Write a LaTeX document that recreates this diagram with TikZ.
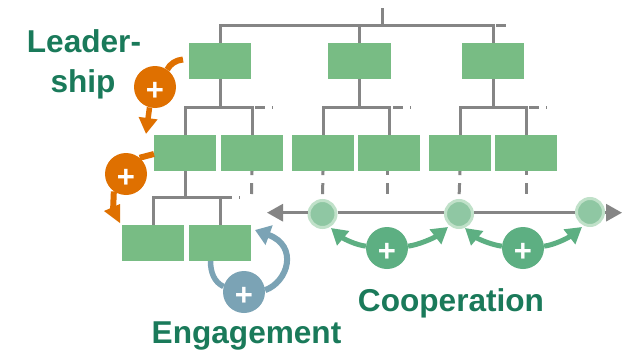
\documentclass[tikz,border=0pt]{standalone}
\usepackage{fontspec}
\setmainfont{Liberation Sans}
\usetikzlibrary{arrows.meta,calc}
\definecolor{boxgreen}{HTML}{78BC84}
\definecolor{linegrey}{HTML}{858585}
\definecolor{labelgreen}{HTML}{1A7A5A}
\definecolor{orangeplus}{HTML}{DF7000}
\definecolor{blueplus}{HTML}{7BA3B5}
\definecolor{greenplus}{HTML}{5DAF82}
\definecolor{dotfill}{HTML}{8FC7A3}
\definecolor{dotring}{HTML}{C0E1C9}
\tikzset{
  orgbox/.style={fill=boxgreen,draw=none,minimum width=62pt,minimum height=36pt,inner sep=0pt},
  tree/.style={draw=linegrey,line width=3pt},
  tail/.style={draw=linegrey,line width=3pt,dash pattern=on 10pt off 7pt on 1pt off 100pt},
  vdash/.style={draw=linegrey,line width=3pt,dash pattern=on 4pt off 8pt on 11pt off 100pt},
  axisline/.style={draw=linegrey,line width=3pt},
  axisarrow/.style={axisline,-{Triangle[length=16pt,width=17pt]}},
  dot/.style={circle,fill=dotfill,draw=dotring,line width=3pt,minimum size=27pt,inner sep=0pt},
  plusnode/.style={circle,minimum size=42pt,inner sep=0pt,text=white,font=\fontsize{31}{31}\selectfont\bfseries},
  lab/.style={text=labelgreen,anchor=base,inner sep=0pt,font=\fontsize{31.6}{32}\selectfont\bfseries},
  oarrow/.style={draw=orangeplus,line width=5.5pt,-{Triangle[length=16pt,width=18pt]}},
  oline/.style={draw=orangeplus,line width=6pt},
  barrow/.style={draw=blueplus,line width=6pt,-{Triangle[length=15pt,width=20pt]}},
  bline/.style={draw=blueplus,line width=5.5pt},
  garrow/.style={draw=greenplus,line width=5pt,-{Triangle[length=16pt,width=18pt]}},
}
\newcommand{\plusmark}{\raisebox{0pt}[26pt][0pt]{+}}
\begin{document}
\begin{tikzpicture}[x=1pt,y=-1pt]
\useasboundingbox[fill=white] (0,0) rectangle (625,351);
% boxes
\node[orgbox] (b11) at (220,61) {};
\node[orgbox,minimum width=63pt] (b12) at (359.5,61) {};
\node[orgbox] (b13) at (493,61) {};
\node[orgbox] (b21) at (185,153) {};
\node[orgbox] (b22) at (252,153) {};
\node[orgbox] (b23) at (323,153) {};
\node[orgbox] (b24) at (389,153) {};
\node[orgbox] (b25) at (460,153) {};
\node[orgbox] (b26) at (526,153) {};
\node[orgbox] (b31) at (153,243) {};
\node[orgbox] (b32) at (220,243) {};
% tree
\coordinate (root) at (382,8);
\coordinate (top) at (382,25.5);
\coordinate (busa) at (219,107);
\coordinate (busb) at (360,107);
\coordinate (busc) at (492,107);
\coordinate (busd) at (186,197.5);
\draw[tree] (root) -- (top);
\draw[tree] (b11.north) |- (top) -| (b13.north);
\draw[tree] (b12.north) -- (b12.north |- top);
\draw[tree] (b11.south) -- (b11.south |- busa);
\draw[tree] (b21.north) |- (busa) -| (b22.north);
\draw[tree] (b12.south) -- (b12.south |- busb);
\draw[tree] (b23.north) |- (busb) -| (b24.north);
\draw[tree] (b13.south) -- (b13.south |- busc);
\draw[tree] (b25.north) |- (busc) -| (b26.north);
\draw[tree] (b21.south) -- (b21.south |- busd);
\draw[tree] (b31.north) |- (busd) -| (b32.north);
% tails
\coordinate (t0a) at (496,25.5); \coordinate (t0b) at (506,25.5);
\coordinate (t1a) at (255,107); \coordinate (t1b) at (274,107);
\coordinate (t2a) at (393,107); \coordinate (t2b) at (412,107);
\coordinate (t3a) at (529,107); \coordinate (t3b) at (548,107);
\coordinate (t4a) at (222,197.5); \coordinate (t4b) at (241,197.5);
\draw[tree] (t0a) -- (t0b);
\draw[tail] (t1a) -- (t1b);
\draw[tail] (t2a) -- (t2b);
\draw[tail] (t3a) -- (t3b);
\draw[tail] (t4a) -- (t4b);
% axis
\node[dot] (n1) at (322.5,214) {};
\node[dot] (n2) at (459,214) {};
\node[dot] (n3) at (590,212) {};
\coordinate (axl) at (267,212.7);
\coordinate (axr) at (622,212.7);
\draw[axisarrow] (n1.west |- axl) -- (axl);
\draw[axisline] (n1.east |- axl) -- (n2.west |- axl);
\draw[axisline] (n2.east |- axl) -- (n3.west |- axl);
\draw[axisarrow] (n3.east |- axl) -- (axr);
\coordinate (d1) at (251.5,194); \coordinate (d2) at (387.5,194); \coordinate (d3) at (526,194);
\draw[vdash] (b22.south) -- (d1);
\draw[vdash] (b23.south) -- (n1.north);
\draw[vdash] (b24.south -| d2) -- (d2);
\draw[vdash] (b25.south) -- (n2.north);
\draw[vdash] (b26.south) -- (d3);
% orange
\node[plusnode,fill=orangeplus] (o1) at (155,87) {\plusmark};
\node[plusnode,fill=orangeplus] (o2) at (126,174) {\plusmark};
\coordinate (ot1) at (183,59.5);
\coordinate (oh1) at (146,134);
\coordinate (ot2) at (154,154);
\coordinate (oh2) at (120,223);
\draw[oline] (o1.55) .. controls (170,64) and (176,60) .. (ot1);
\draw[oarrow] (o1.255) -- (oh1);
\draw[oline] (o2.50) -- (ot2);
\draw[oline] (o2.235) -- (113,212);
\fill[orangeplus] (104,211) -- (120,204) -- (oh2) -- cycle;
% blue
\node[plusnode,fill=blueplus] (e) at (244,292) {\plusmark};
\coordinate (bt) at (255,230);
\coordinate (bl) at (210.5,261);
\draw[barrow] (e.5) .. controls (288,282) and (299,246) .. (bt);
\draw[bline] (e.165) .. controls (214,282) and (210.5,272) .. (bl);
% green
\node[plusnode,fill=greenplus] (g1) at (387,248) {\plusmark};
\node[plusnode,fill=greenplus] (g2) at (523,248) {\plusmark};
\coordinate (a1) at (331,228); \coordinate (a2) at (448,227);
\coordinate (a3) at (465,228); \coordinate (a4) at (582,227);
\draw[garrow] (g1.175) .. controls (356,245) and (344,239) .. (a1);
\draw[garrow] (g1.5) .. controls (418,245) and (434,238) .. (a2);
\draw[garrow] (g2.175) .. controls (492,245) and (478,239) .. (a3);
\draw[garrow] (g2.5) .. controls (554,245) and (568,238) .. (a4);
% labels
\node[lab] (l1) at (84,52) {Leader-};
\node[lab] (l2) at (83,92) {ship};
\node[lab] (l3) at (246.5,343) {Engagement};
\node[lab] (l4) at (451,311) {Cooperation};
\end{tikzpicture}
\end{document}
